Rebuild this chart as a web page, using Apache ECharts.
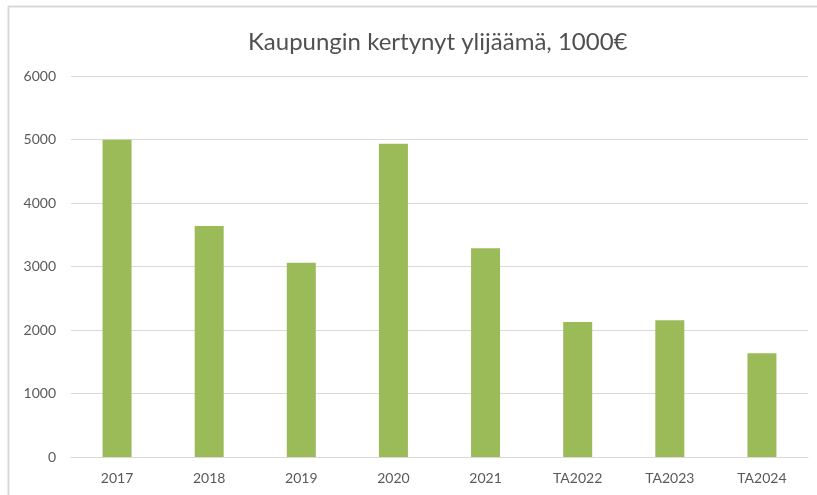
<!DOCTYPE html>
<html>
<head>
<meta charset="utf-8">
<script src="https://cdn.jsdelivr.net/npm/echarts@6/dist/echarts.min.js"></script>
<style>
html,body{margin:0;padding:0;background:#fff;}
#c{width:817px;height:495px;}
</style>
</head>
<body>
<div id="c"></div>
<script>
var titleText = 'Kaupungin kertynyt ylijäämä, 1000€';
var categories = ['2017', '2018', '2019', '2020', '2021', 'TA2022', 'TA2023', 'TA2024'];
var values = [4998, 3638, 3061, 4935, 3287, 2126, 2153, 1633];
var yTicks = [0, 1000, 2000, 3000, 4000, 5000, 6000];

var chart = echarts.init(document.getElementById('c'));
chart.setOption({
  animation: false,
  backgroundColor: '#ffffff',
  graphic: [
    {type: 'line', shape: {x1: 8, y1: 6.5, x2: 817, y2: 6.5}, style: {stroke: '#d9d9d9', lineWidth: 2}, silent: true},
    {type: 'line', shape: {x1: 8.5, y1: 6, x2: 8.5, y2: 495}, style: {stroke: '#d9d9d9', lineWidth: 2}, silent: true}
  ],
  title: {
    text: titleText,
    left: 243,
    top: 25,
    textStyle: {fontFamily: 'Lato', fontWeight: 'normal', fontSize: 24, color: '#505050'}
  },
  grid: {left: 71, right: 9, top: 76, bottom: 38, containLabel: false},
  xAxis: {
    type: 'category',
    data: categories,
    axisLine: {show: true, lineStyle: {color: '#d9d9d9', width: 1}},
    axisTick: {show: false},
    axisLabel: {color: '#595959', fontFamily: 'Lato', fontSize: 14, margin: 14}
  },
  yAxis: {
    type: 'value',
    min: 0,
    max: 6000,
    interval: 1000,
    axisLine: {show: false},
    axisTick: {show: false},
    splitLine: {lineStyle: {color: '#d9d9d9', width: 1}},
    axisLabel: {color: '#595959', fontFamily: 'Lato', fontSize: 14, margin: 15,
      formatter: function (v) { return yTicks.indexOf(v) >= 0 ? String(v) : ''; }}
  },
  series: [{
    type: 'bar',
    data: values,
    barWidth: 29,
    itemStyle: {color: '#9bbb59'}
  }]
});
</script>
</body>
</html>
